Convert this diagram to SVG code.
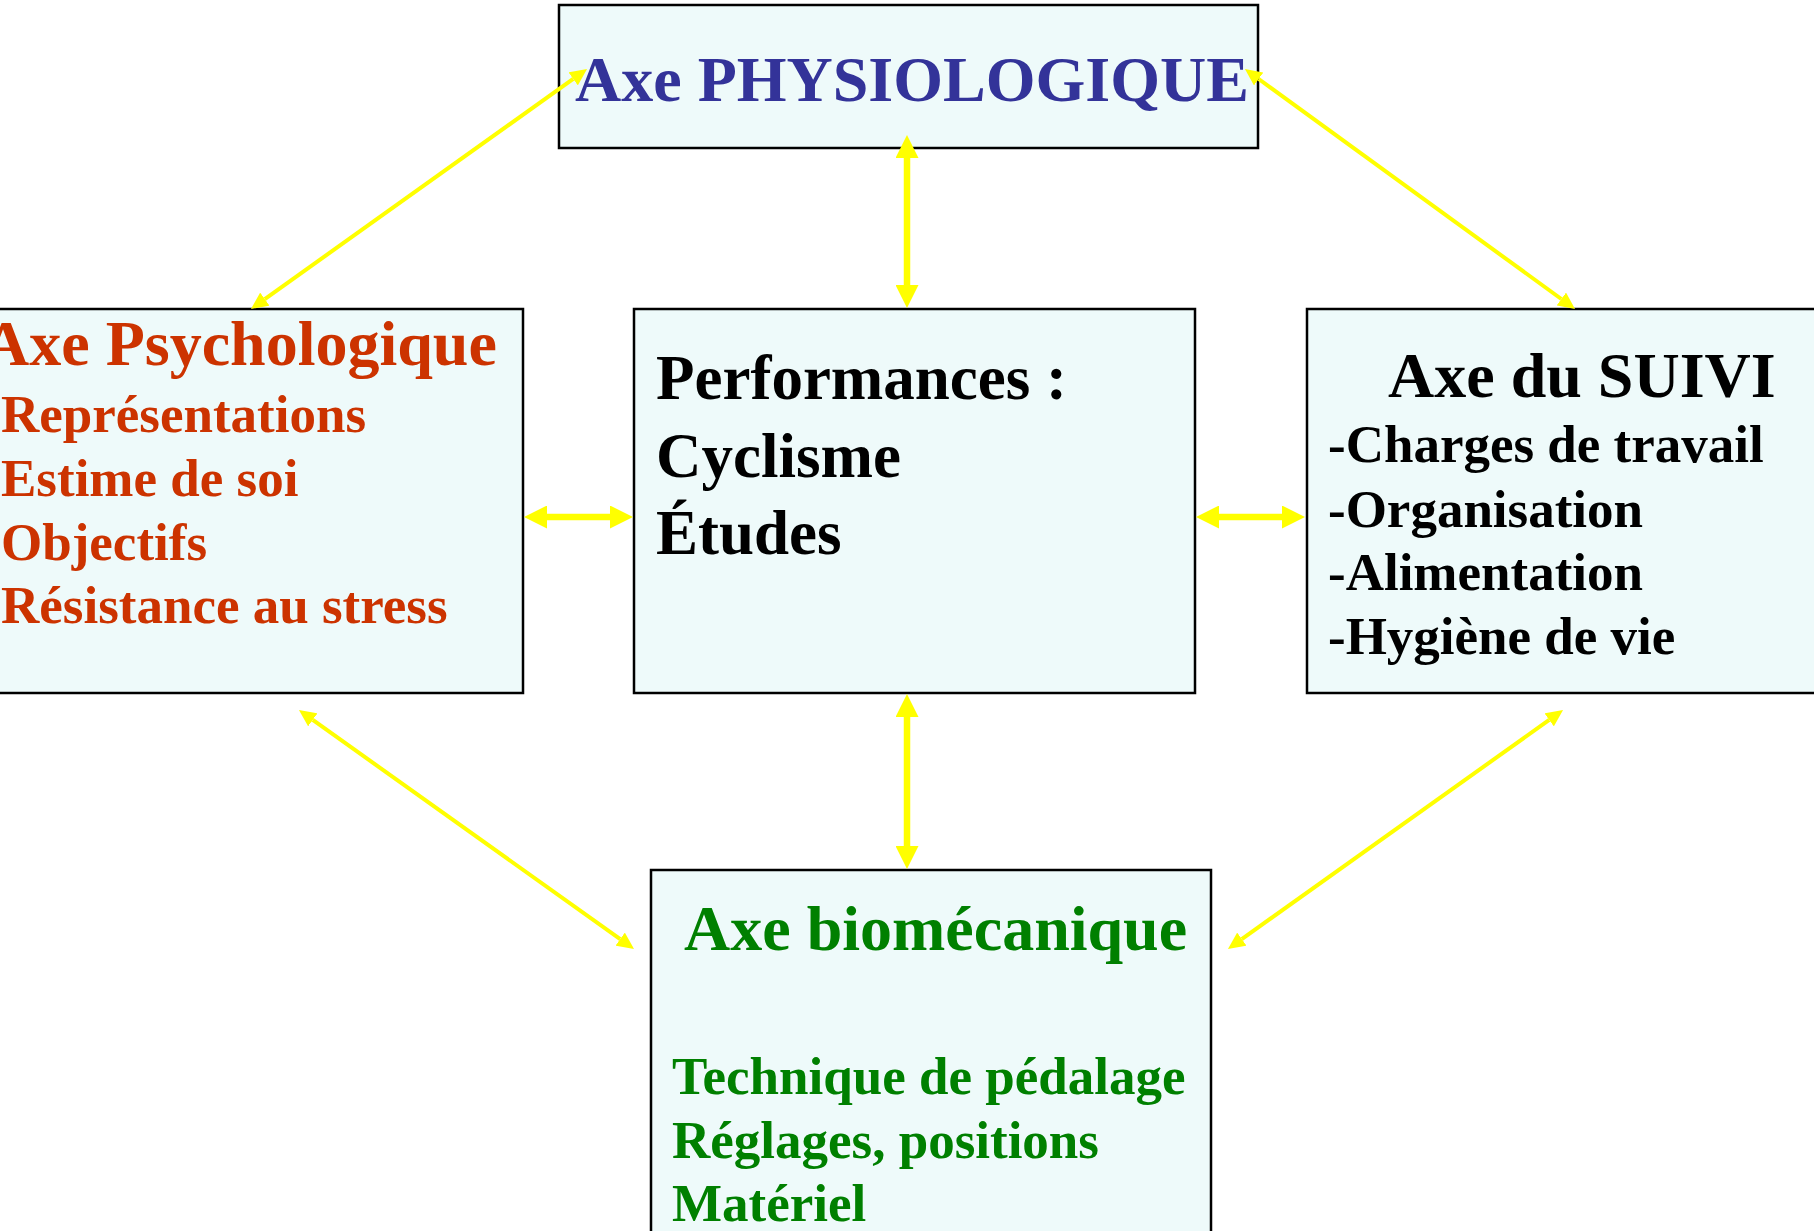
<svg xmlns="http://www.w3.org/2000/svg" width="1814" height="1231" viewBox="0 0 1814 1231">
<style>
.box{fill:#EEFAFA;stroke:#000;stroke-width:2.5}
.t{font-family:"Liberation Serif","Times New Roman",serif;font-weight:bold}
.title{font-size:64px}
.item{font-size:53px}
.perf{font-size:63px}
.blue{fill:#333399}
.red{fill:#CC3300}
.green{fill:#008000}
.black{fill:#000}
.thick{stroke:#FFFF00;stroke-width:6.5;fill:none;marker-start:url(#hb);marker-end:url(#hb)}
.thin{stroke:#FFFF00;stroke-width:4;fill:none;marker-start:url(#hs);marker-end:url(#hs)}
</style>
<defs>
<marker id="hb" markerUnits="userSpaceOnUse" viewBox="0 0 23 23" markerWidth="23" markerHeight="23" refX="0" refY="11.5" orient="auto-start-reverse"><path d="M0,0 L23,11.5 L0,23 z" fill="#FFFF00"/></marker>
<marker id="hs" markerUnits="userSpaceOnUse" viewBox="0 0 17 16" markerWidth="17" markerHeight="16" refX="0" refY="8" orient="auto-start-reverse"><path d="M0,0 L17,8 L0,16 z" fill="#FFFF00"/></marker>
</defs>
<rect width="1814" height="1231" fill="#fff"/>
<g id="physiologique">
<rect class="box" x="559" y="5" width="699" height="143"/>
<text class="t title blue" x="575" y="101">Axe PHYSIOLOGIQUE</text>
</g>
<g id="psychologique">
<rect class="box" x="-10" y="309" width="533" height="384"/>
<text class="t title red" x="-17" y="365">Axe Psychologique</text>
<text class="t item red" x="1" y="432">Représentations</text>
<text class="t item red" x="1" y="496">Estime de soi</text>
<text class="t item red" x="1" y="560">Objectifs</text>
<text class="t item red" x="1" y="623">Résistance au stress</text>
</g>
<g id="performances">
<rect class="box" x="634" y="309" width="561" height="384"/>
<text class="t perf black" x="656" y="399">Performances :</text>
<text class="t perf black" x="656" y="477">Cyclisme</text>
<text class="t perf black" x="656" y="554">Études</text>
</g>
<g id="suivi">
<rect class="box" x="1307" y="309" width="520" height="384"/>
<text class="t title black" x="1388" y="397">Axe du SUIVI</text>
<text class="t item black" x="1328" y="462">-Charges de travail</text>
<text class="t item black" x="1328" y="527">-Organisation</text>
<text class="t item black" x="1328" y="590">-Alimentation</text>
<text class="t item black" x="1328" y="654">-Hygiène de vie</text>
</g>
<g id="biomecanique">
<rect class="box" x="651" y="870" width="560" height="400"/>
<text class="t title green" x="684" y="950">Axe biomécanique</text>
<text class="t item green" x="672" y="1094">Technique de pédalage</text>
<text class="t item green" x="672" y="1158">Réglages, positions</text>
<text class="t item green" x="672" y="1221">Matériel</text>
</g>
<g id="connectors">
<line class="thick" x1="907" y1="158" x2="907" y2="285"/>
<line class="thick" x1="907" y1="717" x2="907" y2="846"/>
<line class="thick" x1="547" y1="517" x2="610" y2="517"/>
<line class="thick" x1="1219" y1="517" x2="1282" y2="517"/>
<line class="thin" x1="573.2" y1="78.9" x2="264.8" y2="299.1"/>
<line class="thin" x1="1258.7" y1="79" x2="1561.3" y2="299"/>
<line class="thin" x1="312.8" y1="719.9" x2="620.2" y2="939.1"/>
<line class="thin" x1="1549.2" y1="719.9" x2="1241.8" y2="939.1"/>
</g>
</svg>
